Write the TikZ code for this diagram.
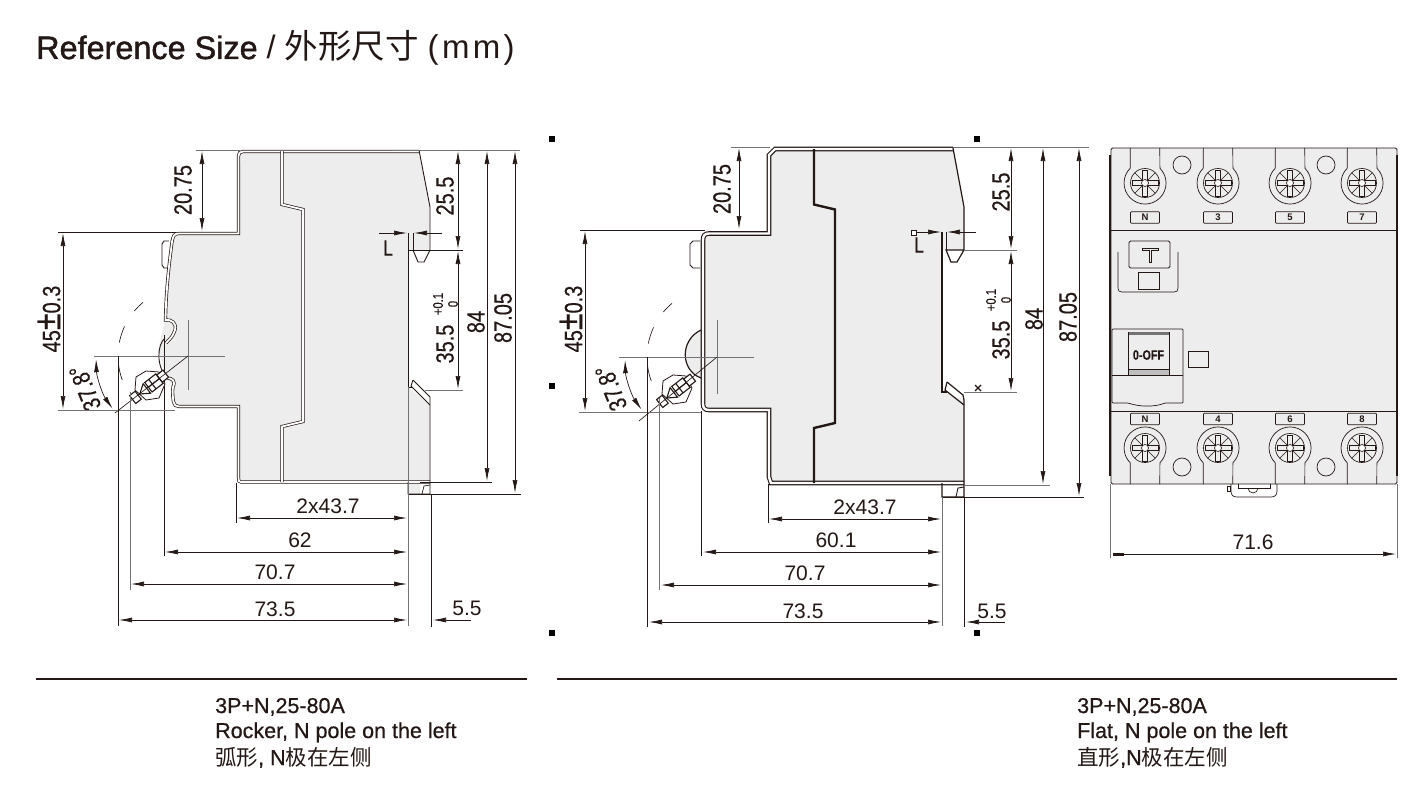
\documentclass[tikz,border=0pt]{standalone}
\usepackage{fontspec}
\usetikzlibrary{arrows.meta}
\setmainfont{Liberation Sans}
\newfontfamily\titlefont[FakeBold=1.4]{Liberation Sans}
\newfontfamily\capfont[FakeBold=0.7]{Liberation Sans}
\newfontfamily\spacedfont[LetterSpace=10]{Liberation Sans}
\newfontfamily\narrowfont[FakeStretch=0.8,FakeBold=0.5]{Liberation Sans}
\newfontfamily\cjk{Noto Sans CJK SC}
\definecolor{ink}{HTML}{231815}
\definecolor{panel}{HTML}{EDEDED}
\tikzset{
  body/.style={fill=panel,draw=none},
  edge/.style={draw=ink,line width=0.9pt},
  wall/.style={draw=ink,line width=0.7pt,double=white,double distance=1.8pt},
  heavywall/.style={draw=ink,line width=1.1pt,double=white,double distance=2.4pt},
  dimline/.style={draw=ink,line width=0.7pt,{Latex[length=13pt,width=5pt]}-{Latex[length=13pt,width=5pt]}},
  oneway/.style={draw=ink,line width=0.7pt,-{Latex[length=13pt,width=5pt]}},
  extline/.style={draw=ink,line width=0.7pt},
  greyline/.style={draw=black!55,line width=0.8pt},
  fineline/.style={draw=ink,line width=0.65pt},
  hlabel/.style={text=ink,inner sep=0pt,font=\fontsize{21}{21}\selectfont},
  vlabel/.style={text=ink,inner sep=0pt,rotate=90,font=\narrowfont\fontsize{25}{25}\selectfont},
  tollabel/.style={text=ink,inner sep=0pt,rotate=90,font=\narrowfont\fontsize{14}{14}\selectfont},
  caption/.style={text=ink,inner sep=0pt,anchor=base west,font=\capfont\fontsize{21.5}{21.5}\selectfont},
  termlabel/.style={draw=ink,fill=panel,line width=0.7pt,rounded corners=0.8pt,minimum width=29pt,minimum height=11.5pt,inner sep=0pt,
    text=ink,font=\fontsize{9.5}{9.5}\selectfont\bfseries},
  marksq/.style={fill=black,draw=none,minimum size=6pt,inner sep=0pt}
}
\begin{document}
\begin{tikzpicture}[x=1pt,y=-1pt]
  \useasboundingbox (0,0) rectangle (1401,800);

  \node[text=ink,inner sep=0pt,anchor=base west] (title) at (36,59) {\fontsize{32.4}{32.4}\selectfont{\titlefont Reference Size} / {\cjk\fontsize{33.5}{33.5}\selectfont 外形尺寸} {\spacedfont\fontsize{33}{33}\selectfont (mm)}};

  % left view
  \coordinate (lc) at (188,356);
  \path[body] (241,151) -- (419,151) -- (430,207) -- (430,250) -- (408,250) -- (408,387) -- (430,405) -- (430,482) -- (237,482) -- (237,408)
    -- (178,408) -- (173,403) -- (172,387) -- (167,378) -- (158,350) -- (165,320) -- (171,242) -- (178,233) -- (237,233) -- cycle;
  \fill[panel] (408,482) rectangle (420,494);
  \draw[wall] (419,151.5) -- (243,151.5) .. controls (240,151.5) and (238.5,153) .. (238.5,156) -- (238.5,233.5) -- (179,233.5)
    .. controls (174,233.5) and (173,236) .. (172,242) .. controls (169,265) and (166,290) .. (165.5,320)
    .. controls (171,319) and (177,323) .. (175,330) .. controls (173,336) and (171,338) .. (166,343);
  \draw[wall] (167,378) .. controls (172,378) and (176,381) .. (173,387) .. controls (172,392) and (173,398) .. (173.5,402)
    .. controls (174,405) and (176,406.5) .. (179,406.5) -- (238.5,406.5) -- (238.5,478) .. controls (238.5,481) and (239,482) .. (241,482) -- (430,482);
  \draw[edge] (165,338) .. controls (157,345) and (156,366) .. (167,378);
  \draw[extline] (164,335) -- (164,556);
  \draw[wall] (282,151) -- (282,204.5) -- (303,209.5) -- (303,421.5) -- (282,426.5) -- (282,482);
  \draw[edge] (419,150) -- (430,207) -- (430,250);
  \draw[edge] (430,250) -- (424,262) -- (418,262) -- (413,250);
  \draw[edge] (408,233) -- (408,387) -- (413,387);
  \draw[edge] (413,380) -- (430,397) -- (430,494) -- (408,494) -- (408,482);
  \draw[edge] (413,380) -- (411,386) -- (430,405);
  \draw[fineline] (422,494) -- (424,486) -- (430,485);
  \draw[edge] (169,241) -- (164,241) -- (162,244) -- (162,265) -- (164,268) -- (168,268);

  % middle view
  \coordinate (mc) at (717,357);
  \path[body] (771,149) -- (953,149) -- (964,207) -- (964,250) -- (942,250) -- (942,392) -- (964,400) -- (964,483) -- (769,483) -- (769,410)
    -- (708,410) -- (703,405) -- (703,378) .. controls (680,370) and (680,340) .. (703,330) -- (703,238) -- (708,233.5) -- (769,233.5) -- cycle;
  \draw[edge,line width=1.2pt] (701,330) .. controls (680,340) and (680,370) .. (701,378);
  \draw[heavywall] (953,149) -- (775,149) -- (769,155) -- (769,233.5) -- (709,233.5)
    .. controls (705,233.5) and (703,235.5) .. (703,240) -- (703,404) .. controls (703,408) and (705,410) .. (709,410)
    -- (769,410) -- (769,477) -- (771,483) -- (964,483);
  \draw[ink,line width=2.4pt] (814,149) -- (814,204.5) -- (835,209.5) -- (835,423) -- (814,428) -- (814,483);
  \draw[edge,line width=1.2pt] (953,148) -- (964,207) -- (964,250) -- (957,262) -- (951,262) -- (946,250) -- (964,250);
  \draw[edge,line width=1.2pt] (942,232) -- (942,392) -- (947,392);
  \draw[edge,line width=1.2pt] (947,382) -- (963,395) -- (964,400) -- (964,497) -- (942,497) -- (942,483);
  \draw[edge,line width=1.2pt] (947,382) -- (945,390) -- (964,405);
  \draw[edge] (956,497) -- (958,488) -- (964,487);
  \draw[edge] (700,241) -- (693,241) -- (690,244) -- (690,265) -- (693,268) -- (700,268);
  \draw[ink,line width=1.2pt] (975,385) -- (981,391) (981,385) -- (975,391);
  \draw[edge,line width=0.8pt,fill=white] (911,230) rectangle (916,235);

  % rocker handles
  \foreach \hx/\hy in {150/386,677/390} {
    \draw[edge,line width=0.8pt,fill=white] (\hx-14,\hy-9) -- (\hx-4,\hy-15) -- (\hx+9,\hy-14) -- (\hx+15,\hy-2) -- (\hx+9,\hy+12) -- (\hx-4,\hy+14) -- (\hx-15,\hy+4) -- cycle;
    \begin{scope}[shift={(\hx,\hy)},rotate=38]
      \draw[edge,line width=1.1pt,fill=white] (-22,-5) rectangle (-15,5);
      \draw[edge,line width=1.1pt,fill=white] (12,-4.5) rectangle (20,4.5);
      \draw[edge,line width=1.1pt] (-13,0) -- (-4,-6) -- (-4,6) -- cycle;
      \draw[edge,line width=1.1pt] (-2,-6) rectangle (12,6) (3,-6) -- (3,6) (-2,0) -- (12,0);
    \end{scope}
  }

  % centre marks and angle
  \draw[greyline] (94,356) -- (225,356) (188,320) -- (188,390);
  \draw[greyline] (619,357) -- (754,357) (717,320) -- (717,394);
  \draw[fineline] (lc) -- (115,413);
  \draw[fineline] (mc) -- (639,421);
  \foreach \cn in {lc,mc} {
    \foreach \sa/\ea in {160/174,191/205,220/230} {
      \draw[fineline] (\cn) ++(\sa:70) arc[start angle=\sa,end angle=\ea,radius=70];
    }
    \draw[dimline] (\cn) ++(178:92) arc[start angle=178,end angle=145,radius=92];
  }
  \node[vlabel,rotate=22] (langle) at (85,388) {37.8°};
  \node[vlabel,rotate=22] (mangle) at (611,388) {37.8°};

  % left dimensions
  \draw[greyline] (196,150) -- (240,150) (393,150) -- (520,150) (58,410) -- (175,410);
  \draw[extline] (58,232) -- (176,232) (408,250) -- (463,250) (420,482) -- (492,482) (408,494) -- (521,494);
  \draw[greyline] (425,390) -- (463,390);
  \draw[dimline] (202,151) -- (202,231);
  \draw[dimline] (63,233) -- (63,409);
  \draw[dimline] (458,151) -- (458,249);
  \draw[dimline] (458,251) -- (458,389);
  \draw[dimline] (487,151) -- (487,481);
  \draw[dimline] (515,151) -- (515,493);
  \draw[oneway] (379,233) -- (407,233);
  \draw[oneway] (442,233) -- (414,233);
  \draw[extline] (413,233) -- (413,250);
  \node[vlabel] (lwidth) at (183,190) {20.75};
  \node[vlabel] (lheight) at (49,319) {45{\fontsize{38}{38}\selectfont±}0.3};
  \node[vlabel] (lnotch) at (445,196) {25.5};
  \node[vlabel] (lrail) at (445,344) {35.5};
  \node[tollabel] (ltolup) at (438,304) {+0.1};
  \node[tollabel] (ltoldn) at (453,304) {0};
  \node[vlabel] (lcase) at (476,322) {84};
  \node[vlabel] (ltotal) at (503,318) {87.05};
  \node[text=ink,inner sep=0pt,font=\narrowfont\fontsize{22}{22}\selectfont] (lgap) at (388,248) {L};

  \draw[extline] (236,483) -- (236,523);
  \draw[greyline] (130,392) -- (130,590) (408,387) -- (408,626);
  \draw[extline] (118,356) -- (118,626) (431,494) -- (431,627);
  \draw[dimline] (237,518) -- (407,518);
  \draw[dimline] (165,552) -- (407,552);
  \draw[dimline] (131,584) -- (407,584);
  \draw[dimline] (119,620) -- (407,620);
  \draw[oneway] (471,620) -- (433,620);
  \node[hlabel] (lbase) at (328,506) {2x43.7};
  \node[hlabel] (lback) at (300,540) {62};
  \node[hlabel] (lhandle) at (275,572) {70.7};
  \node[hlabel] (lover) at (275,609) {73.5};
  \node[hlabel] (lfoot) at (467,608) {5.5};

  % middle dimensions
  \draw[greyline] (731,147) -- (770,147) (953,147) -- (1089,147) (964,250) -- (1017,250) (964,392) -- (1017,392) (964,485) -- (1050,485) (579,412) -- (702,412);
  \draw[extline] (580,230) -- (705,230) (942,497) -- (1084,497);
  \draw[dimline] (739,148) -- (739,229);
  \draw[dimline] (585,231) -- (585,411);
  \draw[dimline] (1011,148) -- (1011,249);
  \draw[dimline] (1011,251) -- (1011,391);
  \draw[dimline] (1043,148) -- (1043,484);
  \draw[dimline] (1079,148) -- (1079,496);
  \draw[oneway] (916,232) -- (941,232);
  \draw[oneway] (976,232) -- (947,232);
  \draw[extline] (946,232) -- (946,250);
  \node[vlabel] (mwidth) at (722,189) {20.75};
  \node[vlabel] (mheight) at (571,319) {45{\fontsize{38}{38}\selectfont±}0.3};
  \node[vlabel] (mnotch) at (1001,192) {25.5};
  \node[vlabel] (mrail) at (1001,340) {35.5};
  \node[tollabel] (mtolup) at (991,300) {+0.1};
  \node[tollabel] (mtoldn) at (1006,300) {0};
  \node[vlabel] (mcase) at (1034,319) {84};
  \node[vlabel] (mtotal) at (1068,317) {87.05};
  \node[text=ink,inner sep=0pt,font=\narrowfont\fontsize{22}{22}\selectfont] (mgap) at (919,245) {L};

  \draw[extline] (768,484) -- (768,523) (701,411) -- (701,556) (647,357) -- (647,627) (964,497) -- (964,627);
  \draw[greyline] (659,398) -- (659,590) (942,497) -- (942,626);
  \draw[dimline] (769,519) -- (941,519);
  \draw[dimline] (703,552) -- (941,552);
  \draw[dimline] (661,585) -- (941,585);
  \draw[dimline] (649,622) -- (941,622);
  \draw[oneway] (1005,622) -- (966,622);
  \node[hlabel] (mbase) at (865,507) {2x43.7};
  \node[hlabel] (mback) at (836,540) {60.1};
  \node[hlabel] (mhandle) at (805,573) {70.7};
  \node[hlabel] (mover) at (803,611) {73.5};
  \node[hlabel] (mfoot) at (992,611) {5.5};

  % drawing marks
  \foreach \mk/\mx/\my in {a/552/139,b/552/386,c/552/633,d/977/139,e/977/633} {
    \node[marksq] (mark\mk) at (\mx,\my) {};
  }

  % front view
  \draw[edge,fill=panel,rounded corners=1.5pt] (1111,148) rectangle (1397,484);
  \draw[ink,line width=1.4pt] (1110,155) -- (1110,476) (1397,155) -- (1397,476);
  \draw[edge] (1111,230) -- (1397,230) (1111,411) -- (1397,411);
  \foreach \hx/\hy in {1182/165,1326/165,1182/467,1326/467} {
    \draw[edge,line width=0.7pt] (\hx,\hy) circle[radius=9];
  }
  \foreach \tx/\tup/\tdn in {1145/N/N,1218/3/4,1290/5/6,1362/7/8} {
    \draw[fineline,line width=0.7pt] (\tx-14.8,148) -- (\tx-14.8,168.2) arc[start angle=225,end angle=-45,radius=21] -- (\tx+14.8,148);
    \draw[fineline,line width=0.7pt] (\tx-14.8,484) -- (\tx-14.8,462.8) arc[start angle=135,end angle=405,radius=21] -- (\tx+14.8,484);
    \foreach \ty in {183,448} {
      \draw[fineline] (\tx,\ty) circle[radius=14.5];
      \foreach \ang in {45,135,225,315} {
        \draw[fineline] (\tx,\ty) ++(\ang:4) -- ++(\ang:10.5);
      }
      \draw[fineline] (\tx-13,\ty-2.5) rectangle (\tx+13,\ty+2.5) (\tx-2.5,\ty-13) rectangle (\tx+2.5,\ty+13);
      \draw[fineline,fill=white] (\tx,\ty) circle[radius=3.5];
    }
    \node[termlabel] (top\tx) at (\tx,217.5) {\tup};
    \node[termlabel] (bot\tx) at (\tx,419) {\tdn};
  }

  \draw[edge,line width=0.8pt,rounded corners=1.5pt] (1129,241) rectangle (1170,268);
  \draw[fineline] (1142,248) -- (1158,248) -- (1158,250) -- (1151,250) -- (1151,262) -- (1149,262) -- (1149,250) -- (1142,250) -- cycle;
  \draw[fineline,line width=0.8pt] (1138,272) rectangle (1159,289);
  \draw[fineline] (1118,252) -- (1118,288) .. controls (1118,291) and (1119,292) .. (1122,292) -- (1174,292) .. controls (1177,292) and (1178,291) .. (1178,288) -- (1178,252);

  \draw[fineline,line width=0.7pt,rounded corners=1pt] (1112,403) -- (1112,329) -- (1183,329) -- (1183,403) -- (1165,403) .. controls (1155,407) and (1140,407) .. (1128,403) -- cycle;
  \draw[fineline,line width=0.7pt] (1112,375) -- (1183,375);
  \draw[fineline,line width=0.7pt,fill=panel] (1128,332) rectangle (1169,375);
  \fill[black!55] (1128.5,332) rectangle (1168.5,335);
  \draw[fineline,fill=black!25] (1128,369) rectangle (1169,375);
  \node[text=ink,inner sep=0pt,font=\narrowfont\fontsize{13.5}{13.5}\selectfont\bfseries] (toggle) at (1148.5,355) {0-OFF};
  \draw[fineline,line width=0.7pt] (1188,351) rectangle (1208,367);

  \draw[fineline,line width=0.7pt] (1231,484) -- (1231,491) .. controls (1231,495) and (1233,497) .. (1237,497) -- (1271,497) .. controls (1275,497) and (1277,495) .. (1277,491) -- (1277,484);
  \draw[fineline,line width=0.7pt] (1238,484) -- (1238,488) -- (1270,488) -- (1270,484);
  \draw[fineline] (1248,488) arc[start angle=180,end angle=0,radius=5];
  \draw[fineline] (1227,486) rectangle (1230,491);

  \draw[greyline] (1110,484) -- (1110,558) (1397,484) -- (1397,558);
  \draw[oneway] (1120,554) -- (1396,554);
  \fill[ink] (1113,552.5) rectangle (1124,555.5);
  \node[hlabel] (fwidth) at (1253,542) {71.6};

  % captions
  \draw[ink,line width=1.3pt] (36,679) -- (527,679);
  \draw[ink,line width=1.3pt] (557,679) -- (1397,679);
  \node[caption] (lcapa) at (215,713) {3P+N,25-80A};
  \node[caption] (lcapb) at (215,738) {Rocker, N pole on the left};
  \node[caption] (lcapc) at (215,765) {{\cjk 弧形}, N{\cjk 极在左侧}};
  \node[caption] (mcapa) at (1077,713) {3P+N,25-80A};
  \node[caption] (mcapb) at (1077,738) {Flat, N pole on the left};
  \node[caption] (mcapc) at (1077,765) {{\cjk 直形},N{\cjk 极在左侧}};
\end{tikzpicture}
\end{document}
